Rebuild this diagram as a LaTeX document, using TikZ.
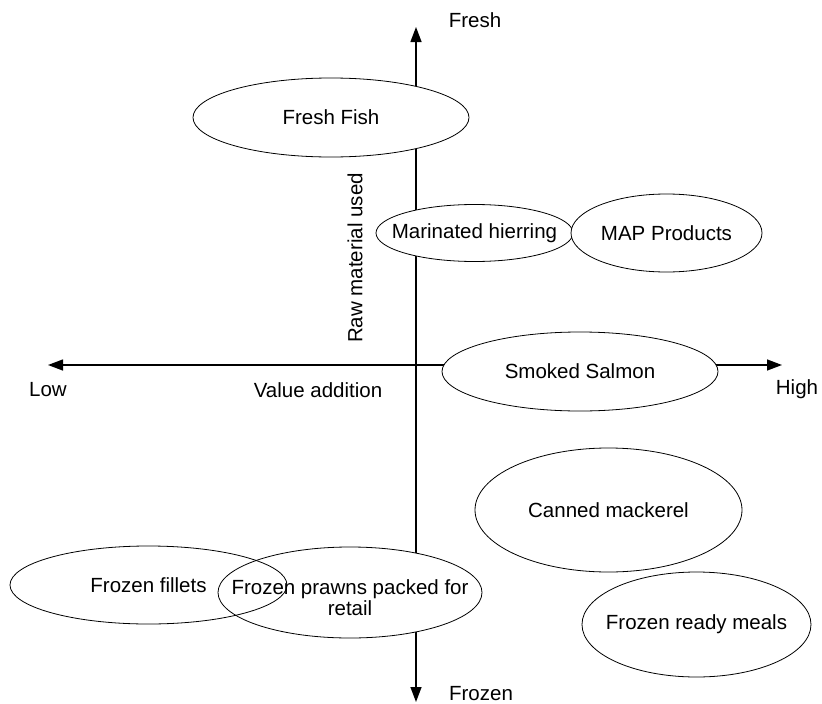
\documentclass[tikz,border=0pt]{standalone}
\usepackage{fontspec}
\setmainfont{Liberation Sans}
\usetikzlibrary{arrows.meta,shapes.geometric}
\begin{document}
\begin{tikzpicture}[x=1pt,y=-1pt,
  axis/.style={line width=1.4pt, -{Triangle[length=15pt,width=11pt]}},
  blob/.style={ellipse, draw, line width=0.8pt, fill=white, inner sep=0pt},
  lbl/.style={font=\fontsize{20.5}{21}\selectfont, inner sep=0pt}]
\useasboundingbox (0,0) rectangle (822,704);

% axes
\coordinate (O) at (416,365);
\coordinate (top) at (416,27);
\coordinate (bottom) at (416,702);
\coordinate (left) at (48,365);
\coordinate (right) at (782,365);
\draw[axis] (O) -- (top);
\draw[axis] (O) -- (bottom);
\draw[axis] (O) -- (left);
\draw[axis] (O) -- (right);

% axis labels
\node[lbl] (fresh) at (475,20) {Fresh};
\node[lbl] (frozen) at (481,694) {Frozen};
\node[lbl] (low) at (48,390) {Low};
\node[lbl] (high) at (797,389) {High};
\node[lbl] (value) at (318,390) {Value addition};
\node[lbl, rotate=90] (raw) at (355,258) {Raw material used};

% product groups
\node[blob, minimum width=276pt, minimum height=79pt,
  label={[lbl]center:Fresh Fish}] (fish) at (331,117.5) {};
\node[blob, minimum width=197pt, minimum height=57pt,
  label={[lbl]center:Marinated hierring}] (herring) at (474.5,233) {};
\node[blob, minimum width=191pt, minimum height=78pt,
  label={[lbl]center:MAP Products}] (map) at (666.5,233) {};
\node[blob, minimum width=276pt, minimum height=79pt,
  label={[lbl]center:Smoked Salmon}] (salmon) at (580,371.5) {};
\node[blob, minimum width=267pt, minimum height=124pt,
  label={[lbl]center:Canned mackerel}] (mackerel) at (608.5,510) {};
\node[blob, minimum width=229pt, minimum height=105pt,
  label={[lbl]center:Frozen ready meals}] (meals) at (696.5,624.5) {};
\node[blob, minimum width=264pt, minimum height=91pt,
  label={[lbl,align=center,yshift=-5pt]center:Frozen prawns packed for\\retail}] (prawns) at (350,592.5) {};
\node[blob, fill=none, minimum width=277pt, minimum height=78pt,
  label={[lbl]center:Frozen fillets}] (fillets) at (148.5,585) {};
\end{tikzpicture}
\end{document}
